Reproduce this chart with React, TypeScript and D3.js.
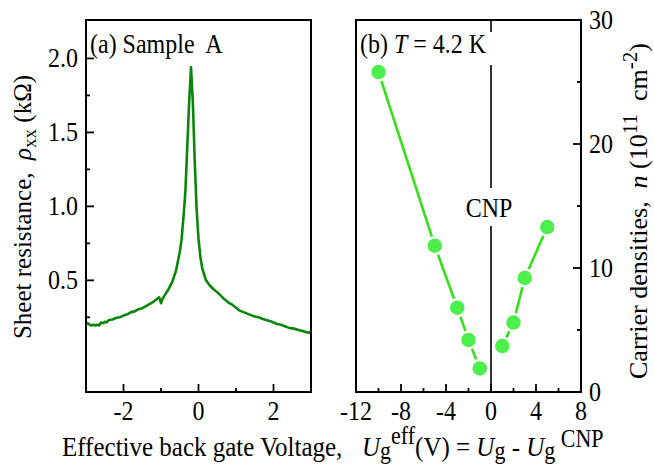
import React from "react";
import * as d3 from "d3";

// ---- Panel (a): sheet resistance vs effective gate voltage ----
const leftV = [
  -3.0, -2.95, -2.9, -2.85, -2.8, -2.75, -2.7, -2.65, -2.6, -2.55, -2.5, -2.45, -2.4, -2.3, -2.2, -2.1,
  -2.0, -1.9, -1.8, -1.7, -1.6, -1.5, -1.4, -1.3, -1.2, -1.1, -1.05, -1.02, -1.0, -0.97, -0.9, -0.8,
  -0.7, -0.6, -0.5, -0.45, -0.4, -0.35, -0.3, -0.25, -0.2, -0.15, -0.1, -0.05, 0.0, 0.05, 0.1, 0.2,
  0.3, 0.4, 0.5, 0.6, 0.7, 0.8, 0.9, 1.0, 1.1, 1.2, 1.3, 1.4, 1.5, 1.6, 1.7, 1.8, 1.9, 2.0, 2.1, 2.2,
  2.3, 2.4, 2.5, 2.6, 2.7, 2.8, 2.9, 3.0,
];
const leftRho = [
  0.205, 0.21, 0.2, 0.195, 0.2, 0.195, 0.2, 0.195, 0.215, 0.21, 0.22, 0.215, 0.23, 0.235, 0.245, 0.25,
  0.262, 0.27, 0.285, 0.29, 0.305, 0.312, 0.325, 0.34, 0.355, 0.375, 0.385, 0.365, 0.345, 0.37, 0.4, 0.44,
  0.49, 0.565, 0.69, 0.78, 0.93, 1.1, 1.4, 1.7, 1.94, 1.7, 1.3, 0.98, 0.78, 0.66, 0.58, 0.5,
  0.465, 0.44, 0.42, 0.395, 0.37, 0.35, 0.335, 0.315, 0.295, 0.285, 0.275, 0.265, 0.255, 0.25, 0.24, 0.232, 0.225, 0.215, 0.205, 0.2,
  0.19, 0.18, 0.175, 0.17, 0.162, 0.155, 0.148, 0.145,
];
const leftXTicks = [-2, 0, 2];
const leftXMinor = [-1, 1];
const leftYTicks = [0.5, 1.0, 1.5, 2.0];
const leftYMinor = [0.25, 0.75, 1.25, 1.75];

// ---- Panel (b): carrier density vs effective gate voltage ----
const holeV = [-10, -5, -3, -2, -1];
const holeN = [25.8, 11.8, 6.8, 4.2, 1.9];
const elecV = [1, 2, 3, 5];
const elecN = [3.7, 5.6, 9.2, 13.3];
const rightXTicks = [-12, -8, -4, 0, 4, 8];
const rightXMinor = [-10, -6, -2, 2, 6];
const rightYTicks = [0, 10, 20, 30];
const rightYMinor = [5, 15, 25];

const FONT = "'Liberation Serif', 'Times New Roman', serif";
const SY = 1.12; // vertical stretch of horizontal text in the reference

function T(props: { x: number; y: number; anchor?: string; size?: number; children: React.ReactNode }) {
  const { x, y, anchor = "start", size = 24, children } = props;
  return (
    <g transform={`translate(${x},${y}) scale(1,${SY})`}>
      <text x={0} y={0} fontSize={size} textAnchor={anchor} xmlSpace="preserve">
        {children}
      </text>
    </g>
  );
}

export default function App() {
  const top = 20, bottom = 392;
  const xa = d3.scaleLinear().domain([-3, 3]).range([86, 311]);
  const ya = d3.scaleLinear().domain([-0.255, 2.26]).range([bottom, top]);
  const xb = d3.scaleLinear().domain([-12, 8]).range([356, 581]);
  const yb = d3.scaleLinear().domain([0, 30]).range([bottom, top]);

  const curve = d3
    .line<number>()
    .x((_, i) => xa(leftV[i]))
    .y((d) => ya(d));
  const holeLine = d3
    .line<number>()
    .x((_, i) => xb(holeV[i]))
    .y((d) => yb(d));
  const elecLine = d3
    .line<number>()
    .x((_, i) => xb(elecV[i]))
    .y((d) => yb(d));

  const major = 8, minor = 4;
  const green = "#0a870a";
  const lime = "#33e01a";
  const dot = "#4cef4c";

  return (
    <svg
      width={654}
      height={472}
      style={{ position: "absolute", left: 0, top: 0, background: "#fff" }}
      fontFamily={FONT}
    >
      <rect x={0} y={0} width={654} height={472} fill="#fff" />

      {/* ===== Panel (a) ===== */}
      <path d={curve(leftRho) || ""} fill="none" stroke={green} strokeWidth={2.6} strokeLinejoin="round" />
      <rect x={xa(-3)} y={top} width={xa(3) - xa(-3)} height={bottom - top} fill="none" stroke="#000" strokeWidth={2} />
      {leftXTicks.map((t) => (
        <line key={"lxt" + t} x1={xa(t)} x2={xa(t)} y1={bottom} y2={bottom - major} stroke="#000" strokeWidth={1.8} />
      ))}
      {leftXMinor.map((t) => (
        <line key={"lxm" + t} x1={xa(t)} x2={xa(t)} y1={bottom} y2={bottom - minor} stroke="#000" strokeWidth={1.8} />
      ))}
      {leftYTicks.map((t) => (
        <line key={"lyt" + t} x1={xa(-3)} x2={xa(-3) + major} y1={ya(t)} y2={ya(t)} stroke="#000" strokeWidth={1.8} />
      ))}
      {leftYMinor.map((t) => (
        <line key={"lym" + t} x1={xa(-3)} x2={xa(-3) + minor} y1={ya(t)} y2={ya(t)} stroke="#000" strokeWidth={1.8} />
      ))}
      {leftXTicks.map((t) => (
        <T key={"lxl" + t} x={xa(t)} y={420} anchor="middle">
          {String(t)}
        </T>
      ))}
      {leftYTicks.map((t) => (
        <T key={"lyl" + t} x={78} y={ya(t) + 9} anchor="end">
          {t.toFixed(1)}
        </T>
      ))}
      <T x={90} y={53}>
        {"(a) Sample  A"}
      </T>
      <text
        transform={`translate(31,207) rotate(-90)`}
        fontSize={25}
        textAnchor="middle"
        xmlSpace="preserve"
      >
        <tspan>{"Sheet resistance,  "}</tspan>
        <tspan fontStyle="italic">ρ</tspan>
        <tspan fontSize={19} dy={5}>xx</tspan>
        <tspan dy={-5}>{" (kΩ)"}</tspan>
      </text>

      {/* ===== Panel (b) ===== */}
      <line x1={xb(0)} x2={xb(0)} y1={top} y2={bottom} stroke="#000" strokeWidth={1.6} />
      <rect x={358} y={32} width={140} height={33} fill="#fff" />
      <rect x={463} y={188} width={54} height={38} fill="#fff" />
      <T x={489} y={217} anchor="middle">CNP</T>
      <T x={360} y={53}>
        <tspan>{"(b) "}</tspan>
        <tspan fontStyle="italic">T</tspan>
        <tspan>{" = 4.2 K"}</tspan>
      </T>

      <path d={holeLine(holeN) || ""} fill="none" stroke={lime} strokeWidth={2.6} />
      <path d={elecLine(elecN) || ""} fill="none" stroke={lime} strokeWidth={2.6} />
      {holeN.map((n, i) => (
        <circle key={"h" + i} cx={xb(holeV[i])} cy={yb(n)} r={8.5} fill={dot} stroke="#fff" strokeWidth={2.5} />
      ))}
      {elecN.map((n, i) => (
        <circle key={"e" + i} cx={xb(elecV[i])} cy={yb(n)} r={8.5} fill={dot} stroke="#fff" strokeWidth={2.5} />
      ))}

      <rect x={xb(-12)} y={top} width={xb(8) - xb(-12)} height={bottom - top} fill="none" stroke="#000" strokeWidth={2} />
      {rightXTicks.map((t) => (
        <line key={"rxt" + t} x1={xb(t)} x2={xb(t)} y1={bottom} y2={bottom - major} stroke="#000" strokeWidth={1.8} />
      ))}
      {rightXMinor.map((t) => (
        <line key={"rxm" + t} x1={xb(t)} x2={xb(t)} y1={bottom} y2={bottom - minor} stroke="#000" strokeWidth={1.8} />
      ))}
      {rightYTicks.map((t) => (
        <line key={"ryt" + t} x1={xb(8)} x2={xb(8) - major} y1={yb(t)} y2={yb(t)} stroke="#000" strokeWidth={1.8} />
      ))}
      {rightYMinor.map((t) => (
        <line key={"rym" + t} x1={xb(8)} x2={xb(8) - minor} y1={yb(t)} y2={yb(t)} stroke="#000" strokeWidth={1.8} />
      ))}
      {rightXTicks.map((t) => (
        <T key={"rxl" + t} x={xb(t)} y={420} anchor="middle">
          {String(t)}
        </T>
      ))}
      {rightYTicks.map((t) => (
        <T key={"ryl" + t} x={589} y={yb(t) + 9}>
          {String(t)}
        </T>
      ))}
      <text
        transform={`translate(647,211) rotate(-90)`}
        fontSize={26}
        textAnchor="middle"
        xmlSpace="preserve"
      >
        <tspan>{"Carrier densities,  "}</tspan>
        <tspan fontStyle="italic">n</tspan>
        <tspan>{" (10"}</tspan>
        <tspan fontSize={21} dy={-10}>11</tspan>
        <tspan dy={10}>{"  cm"}</tspan>
        <tspan fontSize={21} dy={-10}>-2</tspan>
        <tspan dy={10}>)</tspan>
      </text>

      {/* ===== Shared x label ===== */}
      <g transform={`translate(0,456) scale(1,${SY})`}>
        <text y={0} fontSize={25} xmlSpace="preserve">
          <tspan x={62}>{"Effective back gate Voltage,"}</tspan>
          <tspan x={362} fontStyle="italic">U</tspan>
          <tspan fontSize={22} dy={3}>g</tspan>
          <tspan fontSize={22} dy={-14}>eff</tspan>
          <tspan dy={11}>{"(V) = "}</tspan>
          <tspan fontStyle="italic">U</tspan>
          <tspan fontSize={22} dy={3}>g</tspan>
          <tspan dy={-3}>{" - "}</tspan>
          <tspan fontStyle="italic">U</tspan>
          <tspan fontSize={22} dy={3}>g</tspan>
          <tspan fontSize={22} dy={-11}>{" CNP"}</tspan>
        </text>
      </g>
    </svg>
  );
}
